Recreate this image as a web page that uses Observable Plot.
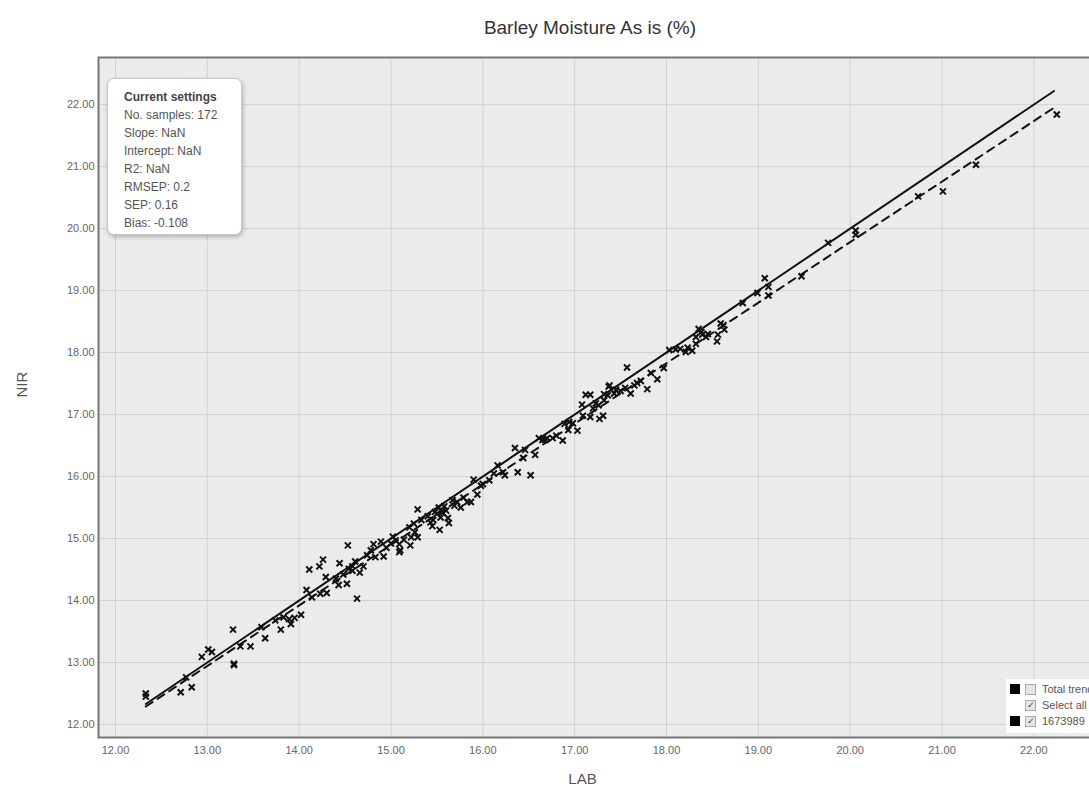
<!DOCTYPE html>
<html><head><meta charset="utf-8">
<script src="https://cdn.jsdelivr.net/npm/d3@7"></script>
<script src="https://cdn.jsdelivr.net/npm/@observablehq/plot@0.6"></script>
<style>
html,body{margin:0;padding:0;overflow:hidden;background:#fff;font-family:"Liberation Sans",Arial,sans-serif;}
#wrap{position:relative;width:1180px;height:791px;}
#title{height:50px;line-height:56px;text-align:center;font-size:19px;color:#333;width:1180px;}
#settings{position:absolute;left:107px;top:78px;width:117px;height:146px;padding:9px 0 0 16px;background:#fff;border:1px solid #c8c8c8;border-radius:7px;box-shadow:1px 2px 4px rgba(0,0,0,0.25);font-size:12px;line-height:18px;color:#555;}
#settings b{color:#444;}
#legend{position:absolute;left:1006px;top:679px;width:120px;height:52px;background:#fff;font-size:11px;color:#555;padding-top:2px;}
.row{height:16px;display:flex;align-items:center;}
.sw{width:10px;height:10px;margin-left:4px;margin-right:5px;}
.cb{width:9px;height:9px;border:1px solid #aaa;background:#e6e6e6;margin-right:6px;font-size:9px;line-height:9px;text-align:center;color:#444;}
</style></head>
<body>
<div id="wrap">
<div id="title">Barley Moisture As is (%)</div>
<div id="chart"></div>
<div id="settings"></div>
<div id="legend"></div>
</div>
<script>
const lab = [12.33,12.33,12.71,12.83,12.77,12.94,13.01,13.05,13.29,13.29,13.36,13.47,13.28,13.63,13.59,13.74,13.80,13.83,13.89,13.91,14.02,14.08,14.14,14.11,14.22,14.26,14.23,14.30,14.29,14.40,14.44,14.43,14.52,14.53,14.54,14.61,14.58,14.63,
14.74,14.83,14.92,14.89,15.02,15.05,15.09,15.10,15.09,15.21,15.22,15.29,15.25,15.20,15.29,15.43,15.50,15.54,15.53,15.63,15.62,15.52,15.56,15.67,15.69,15.72,15.76,15.79,15.83,15.87,15.94,15.90,15.98,16.07,16.16,16.22,16.24,16.35,16.38,16.46,16.44,16.52,16.57,16.61,16.65,16.68,16.76,16.87,16.89,16.94,16.98,16.93,17.03,17.08,17.09,17.17,17.12,17.17,17.27,17.31,17.26,17.32,17.38,17.36,
17.32,17.37,17.43,17.50,17.57,17.61,17.65,17.68,17.72,17.79,17.83,17.90,17.97,18.03,18.15,18.21,18.23,18.28,18.32,18.35,18.32,18.39,18.43,18.56,18.55,18.59,18.62,18.63,18.83,18.99,19.07,19.11,19.11,19.47,19.76,20.06,20.06,20.74,21.01,21.37,22.25,
14.70,14.78,14.81,14.66,14.95,15.00,15.14,15.33,15.40,15.46,15.48,15.58,15.60,15.45,16.00,16.12,16.70,16.80,17.20,17.23,17.45,18.10,18.38,18.45,14.58,14.48,13.95,15.26,17.55];
const nir = [12.50,12.45,12.52,12.60,12.76,13.09,13.21,13.17,12.98,12.96,13.26,13.26,13.53,13.39,13.57,13.68,13.53,13.73,13.70,13.62,13.77,14.17,14.05,14.50,14.55,14.66,14.11,14.12,14.38,14.35,14.60,14.25,14.27,14.89,14.51,14.63,14.48,14.03,
14.73,14.70,14.71,14.95,15.03,14.97,14.91,14.81,14.78,14.89,15.02,15.02,15.24,15.18,15.47,15.26,15.40,15.34,15.14,15.25,15.33,15.50,15.42,15.62,15.53,15.59,15.50,15.66,15.59,15.59,15.71,15.95,15.85,15.94,16.18,16.07,16.02,16.46,16.07,16.43,16.30,16.02,16.35,16.62,16.59,16.59,16.62,16.58,16.85,16.88,16.86,16.75,16.74,17.16,16.98,16.96,17.32,17.32,16.93,16.98,17.15,17.23,17.47,17.31,
17.33,17.45,17.34,17.38,17.76,17.34,17.47,17.51,17.54,17.41,17.67,17.57,17.75,18.04,18.06,18.01,18.08,18.03,18.14,18.38,18.25,18.29,18.25,18.29,18.18,18.47,18.44,18.37,18.80,18.96,19.20,19.06,18.92,19.23,19.77,19.97,19.90,20.52,20.60,21.03,21.84,
14.55,14.81,14.91,14.45,14.85,14.92,14.98,15.30,15.36,15.30,15.43,15.52,15.45,15.20,15.88,16.05,16.62,16.66,17.10,17.18,17.40,18.05,18.33,18.30,14.55,14.42,13.72,15.10,17.43];
const lineLab = [12.33, 22.22];
const identityNir = [12.33, 22.22];
const fitNir = [12.29, 21.95];
const xTicks = [12,13,14,15,16,17,18,19,20,21,22];
const yTicks = [12,13,14,15,16,17,18,19,20,21,22];
const settingsLines = ["No. samples: 172","Slope: NaN","Intercept: NaN","R2: NaN","RMSEP: 0.2","SEP: 0.16","Bias: -0.108"];
const legendItems = [
  {label:"Total trend", swatch:"#000", checked:false},
  {label:"Select all", swatch:"#fff", checked:true},
  {label:"1673989", swatch:"#000", checked:true}
];

const points = lab.map((v,i)=>({lab:v, nir:nir[i]}));
const identity = lineLab.map((v,i)=>({lab:v, nir:identityNir[i]}));
const fit = lineLab.map((v,i)=>({lab:v, nir:fitNir[i]}));

const timesSymbol = {draw(ctx, size){ const h = Math.sqrt(size/Math.PI); ctx.moveTo(-h,-h); ctx.lineTo(h,h); ctx.moveTo(h,-h); ctx.lineTo(-h,h); }};

const chart = Plot.plot({
  width: 1160, height: 741,
  marginTop: 7, marginBottom: 54, marginLeft: 98, marginRight: 44,
  x: {domain: [11.815, 22.9]},
  y: {domain: [11.79, 22.76]},
  style: {fontFamily: "'Liberation Sans', Arial, sans-serif", background: "transparent", overflow: "visible"},
  marks: [
    Plot.frame({fill: "#ebebeb", stroke: null}),
    Plot.gridX(xTicks, {stroke: "#d2d2d2", strokeOpacity: 1, strokeWidth: 1}),
    Plot.gridY(yTicks, {stroke: "#d2d2d2", strokeOpacity: 1, strokeWidth: 1}),
    Plot.axisX(xTicks, {tickFormat: d => d.toFixed(2), tickSize: 0, tickPadding: 9, fontSize: 11, fill: "#666", label: null}),
    Plot.axisY(yTicks, {tickFormat: d => d.toFixed(2), tickSize: 0, tickPadding: 4, fontSize: 11, fill: "#666", label: null}),
    Plot.line(identity, {x: "lab", y: "nir", stroke: "#111", strokeWidth: 2}),
    Plot.line(fit, {x: "lab", y: "nir", stroke: "#111", strokeWidth: 2, strokeDasharray: "8,6"}),
    Plot.dot(points, {x: "lab", y: "nir", symbol: timesSymbol, r: 3, stroke: "#111", strokeWidth: 2}),
    Plot.frame({stroke: "#777", strokeWidth: 2}),
    Plot.text(["NIR"], {frameAnchor: "left", dx: -76, rotate: -90, fontSize: 15, fill: "#555"}),
    Plot.text(["LAB"], {frameAnchor: "bottom", dy: 46, dx: -25, fontSize: 15, fill: "#555"})
  ]
});
document.getElementById("chart").appendChild(chart);

const s = document.getElementById("settings");
s.innerHTML = "<b>Current settings</b><br>" + settingsLines.join("<br>");

const lg = document.getElementById("legend");
legendItems.forEach(it => {
  const r = document.createElement("div"); r.className = "row";
  r.innerHTML = `<span class="sw" style="background:${it.swatch}"></span><span class="cb">${it.checked ? "✓" : ""}</span><span>${it.label}</span>`;
  lg.appendChild(r);
});
</script>
</body></html>
